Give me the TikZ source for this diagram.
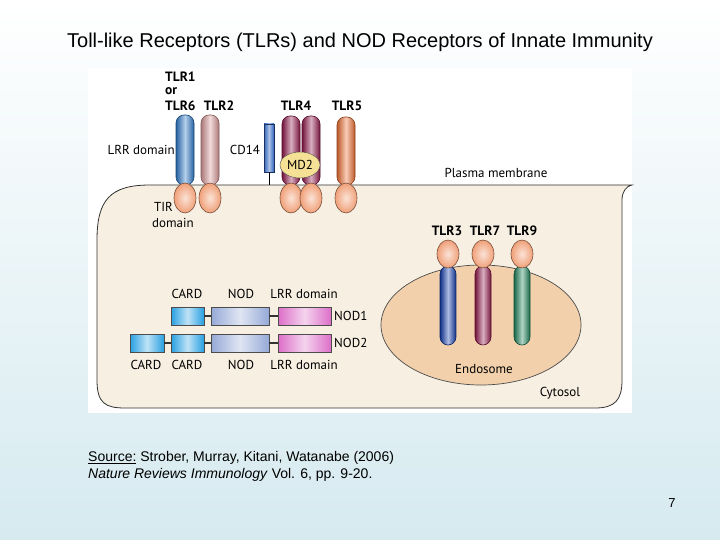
\documentclass[tikz,border=0pt]{standalone}
\usetikzlibrary{shapes.geometric}
\usepackage{fontspec}
\setmainfont{Liberation Sans}
\newfontfamily\fig{PT Sans}
\begin{document}
\begin{tikzpicture}[x=1pt,y=-1pt,
  lab/.style={font=\fig\fontsize{13}{14}\selectfont,inner sep=0pt},
  blab/.style={font=\fig\bfseries\fontsize{13.5}{14}\selectfont,inner sep=0pt},
  bar/.style={draw=#1!60!black,line width=0.6pt,rounded corners=8pt,left color=#1!80!black,right color=#1!80!black,middle color=#1!35!white},
  tir/.style={ellipse,draw=#1!50!black,line width=0.6pt,inner color=#1!30!white,outer color=#1,minimum width=22pt,minimum height=30pt,inner sep=0pt},
  dom/.style={draw=black!70,line width=0.6pt,left color=#1,right color=#1,middle color=#1!30!white,minimum height=18pt,inner sep=0pt},
  link/.style={line width=1.4pt,draw=black!80}]
\definecolor{tb}{RGB}{45,120,200}
\definecolor{tp}{RGB}{215,150,150}
\definecolor{tm}{RGB}{145,25,75}
\definecolor{to}{RGB}{235,110,50}
\definecolor{tg}{RGB}{30,130,90}
\definecolor{tt}{RGB}{240,160,120}
\definecolor{tblu}{RGB}{20,60,170}
\definecolor{cd}{RGB}{50,100,190}
\definecolor{cardc}{RGB}{40,160,225}
\definecolor{nodc}{RGB}{150,170,215}
\definecolor{lrrc}{RGB}{220,110,200}
\definecolor{cellc}{RGB}{246,239,226}
\definecolor{endoc}{RGB}{242,208,172}
\shade[top color=white,bottom color={rgb,255:red,214;green,234;blue,240}] (0,0) rectangle (720,540);
\useasboundingbox (0,0) rectangle (720,540);
\node[font=\fontsize{20}{22}\selectfont] (title) at (360,42) {Toll-like Receptors (TLRs) and NOD Receptors of Innate Immunity};
\fill[white] (88,68) rectangle (632,413);
% cell
\draw[fill=cellc,line width=0.8pt,draw=black!80] (632,185) -- (150,185) .. controls (110,185) and (97,200) .. (97,240) -- (97,380) .. controls (97,403) and (105,408) .. (125,408) -- (595,408) .. controls (615,408) and (622,400) .. (622,380) -- (622,200) .. controls (622,192) and (626,186) .. (632,185) -- cycle;
% endosome
\node[ellipse,draw=black!70,line width=0.7pt,fill=endoc,minimum width=200pt,minimum height=120pt] (endo) at (481,325) {};
% surface TLRs
\draw[bar=tb] (176,115) rectangle (194,185);
\draw[bar=tp] (201,115) rectangle (219,185);
\draw[bar=tm] (282,116) rectangle (300,185);
\draw[bar=tm] (302,116) rectangle (320,185);
\draw[bar=to] (337,117) rectangle (355,185);
\node[tir=tt] (t1) at (185,198) {};
\node[tir=tt] (t2) at (210,198) {};
\node[tir=tt] (t4a) at (291,198) {};
\node[tir=tt] (t4b) at (311,198) {};
\node[tir=tt] (t5) at (346,198) {};
\node[draw=cd!50!black,left color=cd,right color=cd,middle color=cd!40!white,minimum width=10pt,minimum height=48pt,inner sep=0pt] (cd14) at (269,148) {};
\coordinate (cdm) at (269,185);
\draw[line width=0.8pt] (cd14.south) -- (cdm);
\node[ellipse,draw=black!70,fill={rgb,255:red,245;green,225;blue,150},minimum width=40pt,minimum height=26pt,inner sep=0pt,font=\fig\fontsize{13}{14}\selectfont] (md2) at (300,165) {MD2};
% endosomal TLRs
\draw[bar=tblu] (440,266) rectangle (456,345);
\draw[bar=tm] (475,266) rectangle (491,345);
\draw[bar=tg] (514,266) rectangle (530,345);
\node[tir=tt,minimum width=22pt,minimum height=28pt] (t3) at (448,254) {};
\node[tir=tt,minimum width=22pt,minimum height=28pt] (t7) at (483,254) {};
\node[tir=tt,minimum width=22pt,minimum height=28pt] (t9) at (522,254) {};
% labels
\node[blab,anchor=west] (l1) at (165,77) {TLR1};
\node[blab,anchor=west] (lor) at (165,91) {or};
\node[blab,anchor=west] (l6) at (165,106) {TLR6};
\node[blab] (l2) at (219,106) {TLR2};
\node[blab] (l4) at (296,106) {TLR4};
\node[blab] (l5) at (347,106) {TLR5};
\node[lab,anchor=east] (lrr) at (175,150) {LRR domain};
\node[lab] (lcd) at (245,150) {CD14};
\node[lab,anchor=west] (tir1) at (154,207) {TIR};
\node[lab,anchor=west] (tir2) at (152,223) {domain};
\node[lab] (pm) at (496,173) {Plasma membrane};
\node[blab] (l3) at (447,231) {TLR3};
\node[blab] (l7) at (485,231) {TLR7};
\node[blab] (l9) at (522,231) {TLR9};
\node[lab] (lendo) at (484,369) {Endosome};
\node[lab] (lcyt) at (560,393) {Cytosol};
% NOD1
\node[dom=cardc,minimum width=33pt] (c1) at (187.5,316) {};
\node[dom=nodc,minimum width=58pt] (n1) at (240,316) {};
\node[dom=lrrc,minimum width=53pt] (r1) at (304.5,316) {};
\draw[link] (c1) -- (n1); \draw[link] (n1) -- (r1);
\node[lab,anchor=west] (nod1) at (334,316) {NOD1};
% NOD2
\node[dom=cardc,minimum width=34pt] (c2a) at (147,343) {};
\node[dom=cardc,minimum width=33pt] (c2b) at (187.5,343) {};
\node[dom=nodc,minimum width=58pt] (n2) at (240,343) {};
\node[dom=lrrc,minimum width=53pt] (r2) at (304.5,343) {};
\draw[link] (c2a) -- (c2b); \draw[link] (c2b) -- (n2); \draw[link] (n2) -- (r2);
\node[lab,anchor=west] (nod2) at (334,343) {NOD2};
\node[lab] (a1) at (187,294) {CARD};
\node[lab] (a2) at (241,294) {NOD};
\node[lab] (a3) at (304,294) {LRR domain};
\node[lab] (b0) at (146,365) {CARD};
\node[lab] (b1) at (187,365) {CARD};
\node[lab] (b2) at (241,365) {NOD};
\node[lab] (b3) at (304,365) {LRR domain};
% source
\node[anchor=west,inner sep=0pt,font=\fontsize{14}{15}\selectfont] (src1) at (88,458) {\underline{Source:} Strober, Murray, Kitani, Watanabe (2006)};
\node[anchor=west,inner sep=0pt,font=\fontsize{14}{15}\selectfont] (src2) at (88,475) {\textit{Nature Reviews Immunology} Vol. 6, pp. 9-20.};
\node[font=\fontsize{13}{14}\selectfont] (pg) at (672,503) {7};
\end{tikzpicture}
\end{document}
